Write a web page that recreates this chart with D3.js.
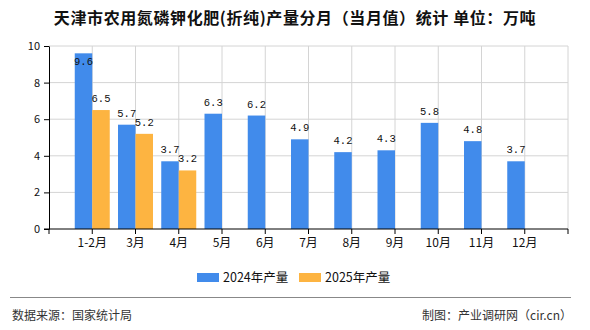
<!DOCTYPE html>
<html><head><meta charset="utf-8">
<script src="https://cdn.jsdelivr.net/npm/d3@7"></script>
<style>body{margin:0;background:#fff}svg{display:block}</style>
</head><body><svg id="c" width="590" height="330"></svg>
<script>
const categories = ["1-2月","3月","4月","5月","6月","7月","8月","9月","10月","11月","12月"];
const series2024 = [9.6,5.7,3.7,6.3,6.2,4.9,4.2,4.3,5.8,4.8,3.7];
const series2025 = [6.5,5.2,3.2];
const yTicks = [0,2,4,6,8,10];
const seriesNames = ["2024年产量","2025年产量"];
const colors = ["#418beb","#fdb441"];

const svg = d3.select("#c");
const L=49,R=568,T=46,B=229;
const x = d3.scalePoint().domain(categories).range([L,R]).padding(1);
const y = d3.scaleLinear().domain([0,10]).range([B,T]);
const bw = 17.5;
const font = "'Noto Sans CJK SC','Noto Sans',sans-serif";

svg.append("text").attr("x",295).attr("y",24).attr("text-anchor","middle")
  .attr("font-family",font).attr("font-size",16).attr("font-weight","bold").attr("fill","#111")
  .attr("letter-spacing",0.6)
  .text("天津市农用氮磷钾化肥(折纯)产量分月（当月值）统计 单位：万吨");

// grid
const g = svg.append("g");
g.selectAll(".hg").data(yTicks.filter(t=>t>0)).enter().append("line")
  .attr("x1",L).attr("x2",R).attr("y1",d=>y(d)).attr("y2",d=>y(d)).attr("stroke","#d4d4d4");
const vx = [L, ...categories.map(c=>x(c)), R];
g.selectAll(".vg").data(vx.slice(1)).enter().append("line")
  .attr("x1",d=>d).attr("x2",d=>d).attr("y1",T).attr("y2",B).attr("stroke","#d4d4d4");

// bars
const d24 = categories.map((c,i)=>({c,v:series2024[i]}));
const d25 = series2025.map((v,i)=>({c:categories[i],v}));
svg.selectAll(".b24").data(d24).enter().append("rect")
  .attr("x",d=>x(d.c)-bw).attr("width",bw).attr("y",d=>y(d.v)).attr("height",d=>B-y(d.v)).attr("fill",colors[0]);
svg.selectAll(".b25").data(d25).enter().append("rect")
  .attr("x",d=>x(d.c)).attr("width",bw).attr("y",d=>y(d.v)).attr("height",d=>B-y(d.v)).attr("fill",colors[1]);

function lab(data, off){
  svg.selectAll(null).data(data).enter().append("text")
    .attr("x",d=>x(d.c)+off).attr("y",d=>{const t=y(d.v)-8; return t<T+4? y(d.v)+12 : t;})
    .attr("text-anchor","middle").attr("font-family","'Liberation Mono','DejaVu Sans Mono',monospace")
    .attr("font-size",10.5).attr("fill","#111").text(d=>d.v.toFixed(1));
}
lab(d24,-bw/2); lab(d25,bw/2);

// y axis
const ya = svg.append("g").attr("transform",`translate(${L},0)`)
  .call(d3.axisLeft(y).tickValues(yTicks).tickSize(5).tickSizeOuter(0));
ya.select(".domain").attr("stroke","#000");
ya.selectAll("line").attr("stroke","#000");
ya.selectAll("text").attr("font-family",font).attr("font-size",11).attr("fill","#111").attr("dx",-1);

// x axis
const xa = svg.append("g").attr("transform",`translate(0,${B})`);
xa.append("line").attr("x1",L-5).attr("x2",R).attr("y1",0).attr("y2",0).attr("stroke","#000");
xa.selectAll(".t").data(vx).enter().append("line").attr("x1",d=>d).attr("x2",d=>d).attr("y1",0).attr("y2",5).attr("stroke","#000");
xa.selectAll(".l").data(categories).enter().append("text").attr("x",d=>x(d)).attr("y",18)
  .attr("text-anchor","middle").attr("font-family",font).attr("font-size",12).attr("fill","#111").text(d=>d);

// legend
const lg = svg.append("g");
const lx = [197,299];
seriesNames.forEach((n,i)=>{
  lg.append("rect").attr("x",lx[i]).attr("y",273).attr("width",22).attr("height",9).attr("fill",colors[i]);
  lg.append("text").attr("x",lx[i]+26).attr("y",282).attr("font-family",font).attr("font-size",12.5).attr("fill","#111").text(n);
});

// footer
svg.append("line").attr("x1",10).attr("x2",571).attr("y1",297.5).attr("y2",297.5).attr("stroke","#888").attr("stroke-width",1);
svg.append("text").attr("x",12).attr("y",320).attr("font-family",font).attr("font-size",12).attr("fill","#333").text("数据来源：国家统计局");
svg.append("text").attr("x",572).attr("y",320).attr("text-anchor","end").attr("font-family",font).attr("font-size",12).attr("fill","#333").text("制图：产业调研网（cir.cn）");
</script></body></html>
